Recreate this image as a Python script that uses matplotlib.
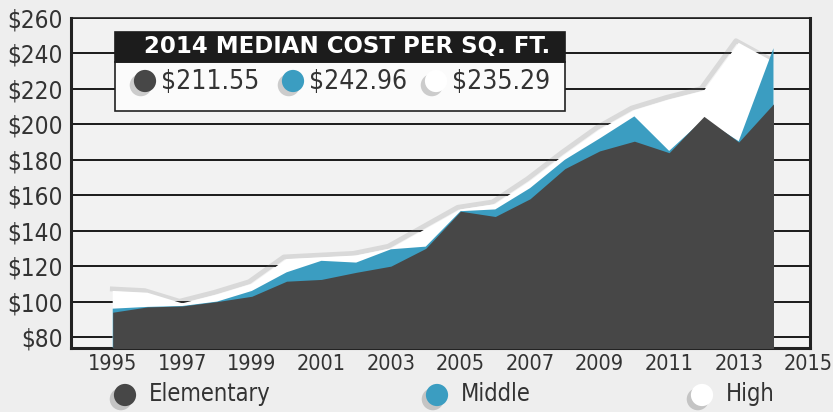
import matplotlib
matplotlib.use("Agg")
import matplotlib.pyplot as plt
import matplotlib.patheffects as pe
import matplotlib.transforms as mtransforms
from matplotlib.patches import Rectangle
from matplotlib.lines import Line2D

# data
years = list(range(1995, 2015))
elementary = [94, 97, 97.5, 100, 103, 111.5, 112.5, 116.5, 120, 130,
              151, 148, 158, 175, 185, 190.5, 184, 204.5, 190, 211.55]
middle = [96, 97, 97.5, 100, 106, 116.5, 123, 122, 129.5, 131,
          151, 152, 164, 180, 192, 204.5, 185, 203, 190.5, 242.96]
high = [106, 105, 99, 104, 110, 124, 125, 126, 130, 141,
        152, 155, 168, 183, 197, 208, 214, 219, 246, 235.29]

series_names = ["Elementary", "Middle", "High"]
median_2014 = ["$211.55", "$242.96", "$235.29"]
y_ticks = list(range(80, 261, 20))
x_ticks = list(range(1995, 2016, 2))

DARK = "#474747"
TEAL = "#3b9dc1"
WHITE = "#ffffff"
BG = "#eeeeee"
TXT = "#333333"
COND = dict(family="DejaVu Sans", fontstretch="condensed")

fig = plt.figure(figsize=(8.33, 4.12), dpi=100, facecolor=BG)
ax = fig.add_axes([0.0852, 0.1553, 0.8872, 0.8010])
ax.set_facecolor("#f2f2f2")

# soft shadow along the top edge of the white (high) area
shift = ax.transData + mtransforms.ScaledTranslation(-2 / 72, 1.5 / 72, fig.dpi_scale_trans)
ax.plot(years, high, color="#777777", lw=3.5, alpha=0.2, zorder=1.9,
        solid_capstyle="butt", transform=shift)
ax.fill_between(years, 0, high, color=WHITE, lw=0, zorder=2)
ax.fill_between(years, 0, middle, color=TEAL, lw=0, zorder=3)
ax.fill_between(years, 0, elementary, color=DARK, lw=0, zorder=4)

ax.set_xlim(1993.8, 2015.05)
ax.set_ylim(73.8, 260)
ax.set_yticks(y_ticks)
ax.set_yticklabels([f"${v}" for v in y_ticks], fontsize=17.5, color=TXT, **COND)
ax.set_xticks(x_ticks)
ax.set_xticklabels([str(v) for v in x_ticks], fontsize=15.5, color=TXT, **COND)
ax.tick_params(length=0, pad=6)
ax.tick_params(axis="x", pad=4)
ax.grid(axis="y", color="#1a1a1a", lw=1.4, zorder=1)
ax.set_axisbelow(True)
for side in ["left", "bottom", "right"]:
    ax.spines[side].set_linewidth(2.2)
    ax.spines[side].set_color("#222222")
ax.spines["top"].set_linewidth(1.2)
ax.spines["top"].set_color("#222222")

# 2014 median box
W, H = 833.0, 412.0
def fx(px):
    return px / W
def fy(py):
    return 1 - py / H

fig.add_artist(Rectangle((fx(115), fy(111)), fx(565) - fx(115), fy(62) - fy(111),
                         transform=fig.transFigure, facecolor="#fbfbfb", edgecolor="#222222",
                         lw=1.2, zorder=10))
fig.add_artist(Rectangle((fx(115), fy(62)), fx(565) - fx(115), fy(32) - fy(62),
                         transform=fig.transFigure, facecolor="#1c1c1c", edgecolor="#1c1c1c",
                         lw=1.2, zorder=11))
fig.text(fx(347), fy(47), "2014 MEDIAN COST PER SQ. FT.", color="white", fontsize=16.5,
         fontweight="bold", ha="center", va="center", zorder=12)

dot_shadow = [pe.SimplePatchShadow(offset=(-3, -3), shadow_rgbFace="#777777", alpha=0.35), pe.Normal()]
colors = [DARK, TEAL, WHITE]
box_dot_x = [145, 293, 436]
for c, x, label in zip(colors, box_dot_x, median_2014):
    fig.add_artist(Line2D([fx(x)], [fy(81)], marker="o", markersize=16, color=c, lw=0,
                          markeredgewidth=0, transform=fig.transFigure, zorder=12,
                          path_effects=dot_shadow))
    fig.text(fx(x + 16), fy(82), label, fontsize=19, color=TXT,
             ha="left", va="center", zorder=12, **COND)

# bottom legend
leg_dot_x = [125, 437, 702]
for c, x, name in zip(colors, leg_dot_x, series_names):
    fig.add_artist(Line2D([fx(x)], [fy(395)], marker="o", markersize=16, color=c, lw=0,
                          markeredgewidth=0, transform=fig.transFigure, zorder=12,
                          path_effects=dot_shadow))
    fig.text(fx(x + 24), fy(394), name, fontsize=17, color=TXT,
             ha="left", va="center", **COND)

fig.savefig("out.png", dpi=100, facecolor=BG)
